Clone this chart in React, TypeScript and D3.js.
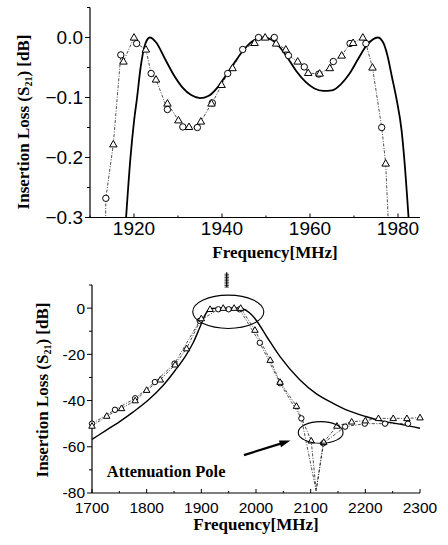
import React from 'react';
import * as d3 from 'd3';

type P = [number, number];

// top: passband detail
const topSim: P[] = [
  [1918.2, -0.30], [1919.2, -0.20], [1920.0, -0.14], [1920.7, -0.10], [1921.5, -0.05],
  [1922.5, -0.012], [1923.6, 0.0], [1925, -0.008], [1927, -0.035], [1929, -0.062],
  [1931, -0.083], [1933, -0.096], [1935, -0.101], [1937, -0.097], [1939, -0.083],
  [1941, -0.062], [1943, -0.040], [1945, -0.020], [1947, -0.006], [1949.3, 0.0],
  [1951, -0.003], [1953, -0.015], [1955, -0.035], [1957, -0.057], [1959, -0.074],
  [1961, -0.085], [1963, -0.089], [1965, -0.088], [1967, -0.078], [1969, -0.060],
  [1971, -0.035], [1973, -0.012], [1975.4, 0.0], [1976.6, -0.008], [1977.6, -0.03],
  [1978.6, -0.065], [1979.7, -0.104], [1980.8, -0.154], [1981.4, -0.20], [1982.4, -0.30]
];
const topCircles: P[] = [
  [1913.6, -0.268], [1917.0, -0.029], [1920.6, -0.010], [1923.9, -0.060], [1927.6, -0.120],
  [1931.1, -0.149], [1934.4, -0.150], [1937.8, -0.109], [1941.3, -0.060], [1944.7, -0.020],
  [1948.3, 0.0], [1951.9, 0.0], [1955.1, -0.030], [1958.7, -0.049], [1962.0, -0.061],
  [1965.3, -0.040], [1969.1, -0.010], [1972.7, -0.010], [1976.3, -0.150]
];
const topTriangles: P[] = [
  [1915.3, -0.178], [1917.6, -0.040], [1920.0, 0.0], [1922.7, -0.020], [1925.0, -0.070],
  [1927.6, -0.110], [1930.1, -0.138], [1932.5, -0.149], [1935.2, -0.140], [1937.6, -0.110],
  [1939.9, -0.079], [1942.4, -0.051], [1947.4, -0.009], [1949.8, 0.0], [1952.3, -0.010],
  [1954.5, -0.020], [1957.2, -0.040], [1959.6, -0.059], [1962.2, -0.060], [1964.5, -0.051],
  [1967.2, -0.030], [1969.8, -0.009], [1972.0, 0.0], [1974.2, -0.050], [1977.2, -0.210]
];
// measured trace runs off the bottom of the frame at both ends
const topTraceEnds: P[] = [[1913.5, -0.34], [1978.0, -0.34]];
const topXTicks = [1920, 1940, 1960, 1980];
const topYTicks = [0.0, -0.1, -0.2, -0.3];

// bottom: wideband response
const botSim: P[] = [
  [1700, -56.8], [1725, -53], [1750, -49.2], [1775, -45], [1803, -39.8], [1830, -33.5],
  [1852, -27], [1873, -20], [1885, -15], [1897, -8.5], [1905, -4], [1912, -1], [1920, -0.1],
  [1940, 0], [1960, 0], [1975, -0.3], [1988, -2], [1998, -4.5], [2020, -12.5], [2044, -21],
  [2080, -31], [2110, -37], [2141, -41.2], [2170, -44.5], [2202, -47], [2230, -48.8],
  [2263, -50.2], [2300, -52]
];
const botCircles: P[] = [
  [1700, -50], [1742, -44], [1779, -39], [1815, -32], [1851, -24], [1897, -5.5],
  [1931, -0.5], [1950, -0.5], [1970, -0.5], [2007, -15], [2044, -32.5], [2083, -47.7],
  [2123, -58.5], [2163, -51.3], [2199, -50], [2236, -50], [2278, -50]
];
const botTriangles: P[] = [
  [1700, -51], [1727, -46.7], [1754, -43.4], [1779, -40], [1800, -35.5], [1825, -31],
  [1852, -24.5], [1873, -17.5], [1900, -4.5], [1916, -0.5], [1940, 0], [1960, 0],
  [1972, 0], [1998, -9.5], [2026, -22.5], [2044, -32], [2074, -42.4], [2101, -57.4],
  [2124, -58], [2148, -51], [2175, -49.2], [2200, -48.7], [2224, -47.7], [2251, -47.7],
  [2276, -47.7], [2300, -47.4]
];
const botDip: P = [2110, -79];
const botXTicks = [1700, 1800, 1900, 2000, 2100, 2200, 2300];
const botYTicks = [0, -20, -40, -60, -80];

const tickFont = '"Liberation Sans", Arial, sans-serif';
const labelFont = '"Liberation Serif", "Times New Roman", serif';

const tri = (cx: number, cy: number, s: number) => {
  const h = s * 0.866;
  return `M${cx},${cy - h * 0.6}L${cx + s / 2},${cy + h * 0.4}L${cx - s / 2},${cy + h * 0.4}Z`;
};

function Axes({ x, y, xTicks, yTicks, xMinor, yMinor, fmt, fs, xLabelY }: any) {
  const [x0, x1] = x.range();
  const [y0, y1] = y.range();
  return (
    <g stroke="#000" fill="none">
      <line x1={x0} x2={x0} y1={y0} y2={y1} strokeWidth={1.2} />
      <line x1={x0} x2={x1} y1={y0} y2={y0} strokeWidth={1.2} />
      {yTicks.map((t: number) => (
        <line key={'yt' + t} x1={x0 - 5} x2={x0} y1={y(t)} y2={y(t)} />
      ))}
      {yMinor.map((t: number) => (
        <line key={'ym' + t} x1={x0 - 3} x2={x0} y1={y(t)} y2={y(t)} />
      ))}
      {xTicks.map((t: number) => (
        <line key={'xt' + t} x1={x(t)} x2={x(t)} y1={y0} y2={y0 - 4} />
      ))}
      {xMinor.map((t: number) => (
        <line key={'xm' + t} x1={x(t)} x2={x(t)} y1={y0} y2={y0 - 2} />
      ))}
      <g stroke="none" fill="#000" fontFamily={tickFont} fontSize={fs}>
        {yTicks.map((t: number) => (
          <text key={'yl' + t} x={x0 - 7} y={y(t)} dy="0.35em" textAnchor="end">{fmt(t)}</text>
        ))}
        {xTicks.map((t: number) => (
          <text key={'xl' + t} x={x(t)} y={xLabelY} textAnchor="middle">{t}</text>
        ))}
      </g>
    </g>
  );
}

export default function App() {
  // top chart scales
  const xT = d3.scaleLinear().domain([1910, 1985]).range([90, 420]);
  const yT = d3.scaleLinear().domain([-0.3, 0.05]).range([217.5, 7.5]);
  // bottom chart scales
  const xB = d3.scaleLinear().domain([1700, 2300]).range([92, 420]);
  const yB = d3.scaleLinear().domain([-80, 10]).range([493, 285]);

  const simT = d3.line<P>().x(d => xT(d[0])).y(d => yT(d[1])).curve(d3.curveMonotoneX);
  const simB = d3.line<P>().x(d => xB(d[0])).y(d => yB(d[1])).curve(d3.curveMonotoneX);
  const measT = d3.line<P>().x(d => xT(d[0])).y(d => yT(d[1]));
  const measB = d3.line<P>().x(d => xB(d[0])).y(d => yB(d[1]));

  const topTrace = [...topTraceEnds, ...topCircles, ...topTriangles].sort((a, b) => a[0] - b[0]);
  const withDip = (s: P[]) => [...s, botDip].sort((a, b) => a[0] - b[0]);

  // annotation anchors in data units
  const passEll = { f: 1949.3, v: -1.6, df: 65, dv: 7.2 };
  const poleEll = { f: 2118.3, v: -53.8, df: 41, dv: 4.7 };
  const arrowFrom: P = [1978, -63.6];
  const arrowTo: P = [2063, -57.3];
  const marker = { f: 1946.4, top: 15.5, bottom: 9 };

  const ax0 = xB(arrowFrom[0]), ay0 = yB(arrowFrom[1]);
  const ax1 = xB(arrowTo[0]), ay1 = yB(arrowTo[1]);
  const ang = Math.atan2(ay1 - ay0, ax1 - ax0);
  const head = (l: number, w: number) => {
    const bx = ax1 - l * Math.cos(ang), by = ay1 - l * Math.sin(ang);
    const px = -Math.sin(ang) * w, py = Math.cos(ang) * w;
    return `M${ax1},${ay1}L${bx + px},${by + py}L${bx - px},${by - py}Z`;
  };

  const mx = xB(marker.f);
  const dashes = d3.range(yB(marker.top) + 2, yB(marker.bottom), 1.6);

  return (
    <svg width={448} height={545} style={{ position: 'absolute', left: 0, top: 0, background: '#fff' }}>
      <defs>
        <clipPath id="clipT"><rect x={0} y={0} width={448} height={217.5} /></clipPath>
        <clipPath id="clipB"><rect x={0} y={270} width={448} height={223} /></clipPath>
      </defs>

      {/* ---------- top chart ---------- */}
      <Axes x={xT} y={yT} xTicks={topXTicks} yTicks={topYTicks}
        xMinor={[1910, 1930, 1950, 1970]} yMinor={[0.05, -0.05, -0.15, -0.25]}
        fmt={d3.format('.1f')} fs={19} xLabelY={235} />
      <g clipPath="url(#clipT)">
        <path d={measT(topTrace) || ''} fill="none" stroke="#222" strokeWidth={0.8} strokeDasharray="3,1.5,1,1.5" />
        <path d={simT(topSim) || ''} fill="none" stroke="#000" strokeWidth={1.8} />
        {topCircles.map((d, i) => (
          <circle key={'tc' + i} cx={xT(d[0])} cy={yT(d[1])} r={3.2} fill="#fff" stroke="#000" strokeWidth={1} />
        ))}
        {topTriangles.map((d, i) => (
          <path key={'tt' + i} d={tri(xT(d[0]), yT(d[1]), 7.5)} fill="#fff" stroke="#000" strokeWidth={1} />
        ))}
      </g>
      <text x={275} y={258} textAnchor="middle" fontFamily={labelFont} fontWeight="bold" fontSize={17}>Frequency[MHz]</text>
      <text transform="translate(29,122) rotate(-90)" textAnchor="middle" fontFamily={labelFont} fontWeight="bold" fontSize={17}>
        Insertion Loss (S<tspan fontSize={10} dy={3}>21</tspan><tspan dy={-3}>) [dB]</tspan>
      </text>

      {/* ---------- bottom chart ---------- */}
      <Axes x={xB} y={yB} xTicks={botXTicks} yTicks={botYTicks}
        xMinor={[1750, 1850, 1950, 2050, 2150, 2250]} yMinor={[10, -10, -30, -50, -70]}
        fmt={(t: number) => String(t)} fs={15.5} xLabelY={512.5} />
      <g clipPath="url(#clipB)">
        <path d={measB(withDip(botCircles)) || ''} fill="none" stroke="#222" strokeWidth={0.8} strokeDasharray="3,1.5,1,1.5" />
        <path d={measB(withDip(botTriangles)) || ''} fill="none" stroke="#222" strokeWidth={0.8} strokeDasharray="3,1.5,1,1.5" />
        <path d={simB(botSim) || ''} fill="none" stroke="#000" strokeWidth={1.4} />
        {botCircles.map((d, i) => (
          <circle key={'bc' + i} cx={xB(d[0])} cy={yB(d[1])} r={2.7} fill="#fff" stroke="#000" strokeWidth={1} />
        ))}
        {botTriangles.map((d, i) => (
          <path key={'bt' + i} d={tri(xB(d[0]), yB(d[1]), 6.5)} fill="#fff" stroke="#000" strokeWidth={1} />
        ))}
      </g>
      <ellipse cx={xB(passEll.f)} cy={yB(passEll.v)}
        rx={xB(passEll.f + passEll.df) - xB(passEll.f)} ry={yB(passEll.v - passEll.dv) - yB(passEll.v)}
        fill="none" stroke="#000" strokeWidth={1.1} />
      <ellipse cx={xB(poleEll.f)} cy={yB(poleEll.v)}
        rx={xB(poleEll.f + poleEll.df) - xB(poleEll.f)} ry={yB(poleEll.v - poleEll.dv) - yB(poleEll.v)}
        fill="none" stroke="#000" strokeWidth={1.1} />
      <line x1={mx} x2={mx} y1={yB(marker.top)} y2={yB(marker.bottom)} stroke="#000" strokeWidth={1.2} />
      {dashes.map((yy, i) => (
        <line key={'md' + i} x1={mx - 2.2} x2={mx + 2.2} y1={yy} y2={yy} stroke="#000" strokeWidth={0.7} />
      ))}
      <line x1={ax0} y1={ay0} x2={ax1 - 6 * Math.cos(ang)} y2={ay1 - 6 * Math.sin(ang)} stroke="#000" strokeWidth={2.2} />
      <path d={head(11, 3.5)} fill="#000" />
      <text x={xB(1727)} y={yB(-73)} fontFamily={labelFont} fontWeight="bold" fontSize={16.5}>Attenuation Pole</text>
      <text x={256} y={530} textAnchor="middle" fontFamily={labelFont} fontWeight="bold" fontSize={17}>Frequency[MHz]</text>
      <text transform="translate(47.5,390) rotate(-90)" textAnchor="middle" fontFamily={labelFont} fontWeight="bold" fontSize={17}>
        Insertion Loss (S<tspan fontSize={10} dy={3}>21</tspan><tspan dy={-3}>) [dB]</tspan>
      </text>
    </svg>
  );
}
